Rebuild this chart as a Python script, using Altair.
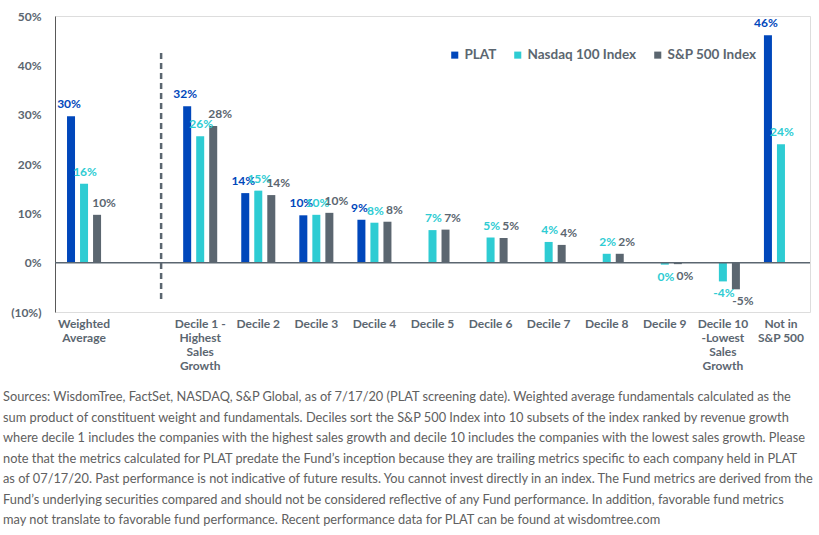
import altair as alt
import pandas as pd

# ---------------- data ----------------
categories = [
    "Weighted Average", " ", "Decile 1 - Highest Sales Growth", "Decile 2", "Decile 3",
    "Decile 4", "Decile 5", "Decile 6", "Decile 7", "Decile 8", "Decile 9",
    "Decile 10 -Lowest Sales Growth", "Not in S&P 500",
]
category_lines = {
    "Weighted Average": ["Weighted", "Average"],
    "Decile 1 - Highest Sales Growth": ["Decile 1 -", "Highest", "Sales", "Growth"],
    "Decile 10 -Lowest Sales Growth": ["Decile 10", "-Lowest", "Sales", "Growth"],
    "Not in S&P 500": ["Not in", "S&P 500"],
}
series_names = ["PLAT", "Nasdaq 100 Index", "S&P 500 Index"]
series_colors = ["#0047BB", "#2ECCD3", "#5B6670"]

plat = [29.7, None, 31.7, 14.1, 9.6, 8.7, None, None, None, None, None, None, 46.1]
nasdaq = [16.0, None, 25.6, 14.6, 9.7, 8.1, 6.6, 5.1, 4.2, 1.8, -0.4, -3.8, 24.0]
sp500 = [9.7, None, 27.7, 13.7, 10.1, 8.3, 6.7, 5.0, 3.6, 1.8, -0.3, -5.4, None]

y_ticks = [-10, 0, 10, 20, 30, 40, 50]

footnote = [
    "Sources: WisdomTree, FactSet, NASDAQ, S&P Global, as of 7/17/20 (PLAT screening date). Weighted average fundamentals calculated as the",
    "sum product of constituent weight and fundamentals. Deciles sort the S&P 500 Index into 10 subsets of the index ranked by revenue growth",
    "where decile 1 includes the companies with the highest sales growth and decile 10 includes the companies with the lowest sales growth. Please",
    "note that the metrics calculated for PLAT predate the Fund\u2019s inception because they are trailing metrics specific to each company held in PLAT",
    "as of 07/17/20. Past performance is not indicative of future results. You cannot invest directly in an index. The Fund metrics are derived from the",
    "Fund\u2019s underlying securities compared and should not be considered reflective of any Fund performance. In addition, favorable fund metrics",
    "may not translate to favorable fund performance. Recent performance data for PLAT can be found at wisdomtree.com",
]

rows = []
for name, vals in zip(series_names, [plat, nasdaq, sp500]):
    for cat, v in zip(categories, vals):
        if v is not None:
            rows.append({"category": cat, "series": name, "value": v, "label": f"{int(round(v))}%"})
df = pd.DataFrame(rows)

# ---------------- styling ----------------
FONT = "Lato"
GRAY = "#5B6670"
label_dx = {"PLAT": -2, "Nasdaq 100 Index": 1, "S&P 500 Index": 7}

label_expr = ""
for k, lines in category_lines.items():
    arr = "[" + ",".join("'" + s + "'" for s in lines) + "]"
    label_expr += f"datum.value == '{k}' ? {arr} : "
label_expr += "datum.value"

x_enc = alt.X(
    "category:N",
    sort=categories,
    scale=alt.Scale(domain=categories, paddingInner=0, paddingOuter=0),
    axis=alt.Axis(
        title=None, labelAngle=0, domain=False, ticks=False, labelExpr=label_expr,
        labelFont=FONT, labelFontSize=12, labelFontWeight="bold", labelColor=GRAY,
        labelPadding=6, labelLineHeight=14, labelBaseline="top", labelLimit=0,
        labelOverlap=False,
    ),
)
xoff_enc = alt.XOffset(
    "series:N", sort=series_names,
    scale=alt.Scale(domain=series_names, paddingInner=0.385, paddingOuter=0.923),
)
y_enc = alt.Y(
    "value:Q",
    scale=alt.Scale(domain=[-10, 50], nice=False, zero=False),
    axis=alt.Axis(
        title=None, grid=False, ticks=False, values=y_ticks,
        labelExpr="datum.value < 0 ? '(' + abs(datum.value) + '%)' : datum.value + '%'",
        labelFont=FONT, labelFontSize=12, labelFontWeight="bold", labelColor=GRAY,
        labelPadding=14, domainColor="#595959", domainWidth=1,
    ),
)
color_scale = alt.Scale(domain=series_names, range=series_colors)

base = alt.Chart(df)

bars = base.mark_bar().encode(
    x=x_enc, xOffset=xoff_enc, y=y_enc,
    color=alt.Color(
        "series:N", scale=color_scale, sort=series_names,
        legend=alt.Legend(
            title=None, orient="none", legendX=393, legendY=32, direction="horizontal",
            symbolType="square", symbolSize=50, symbolStrokeWidth=0,
            labelFont=FONT, labelFontSize=13.5, labelFontWeight="bold", labelColor=GRAY,
            columnPadding=14, labelOffset=3,
        ),
    ),
)

label_layers = []
for name in series_names:
    for cond, dy in (("datum.value >= 0", -12), ("datum.value < 0", 12)):
        label_layers.append(
            base.transform_filter(alt.datum.series == name).transform_filter(cond).mark_text(
                font=FONT, fontSize=12, fontWeight="bold", baseline="middle",
                dy=dy, dx=label_dx[name],
            ).encode(
                x=alt.X("category:N", sort=categories),
                xOffset=alt.XOffset("series:N", sort=series_names),
                y="value:Q", text="label:N",
                color=alt.Color("series:N", scale=color_scale, legend=None),
            )
        )

zero_rule = alt.Chart(pd.DataFrame({"v": [0]})).mark_rule(color=GRAY, strokeWidth=1.5).encode(
    y="v:Q"
)

divider = alt.Chart(pd.DataFrame({"category": [" "]})).mark_rule(
    color=GRAY, strokeWidth=2.5, strokeDash=[6, 4], xOffset=19
).encode(
    x=alt.X("category:N", sort=categories), y=alt.datum(42.5), y2=alt.datum(-7.5)
)

chart = alt.layer(bars, zero_rule, divider, *label_layers).resolve_scale(
    color="shared"
).properties(
    width=755, height=296,
    autosize=alt.AutoSizeParams(type="none"),
    padding={"left": 55, "top": 16, "right": 9, "bottom": 223},
    title=alt.TitleParams(
        text=footnote, orient="bottom", anchor="start", frame="group", dx=-52, offset=20,
        font=FONT, fontSize=12.8, fontWeight="normal", color="#606060", lineHeight=20.5,
    ),
).configure_view(stroke=None).configure(background="white")

chart.save("out.html", embed_options={"renderer": "svg", "actions": False})
